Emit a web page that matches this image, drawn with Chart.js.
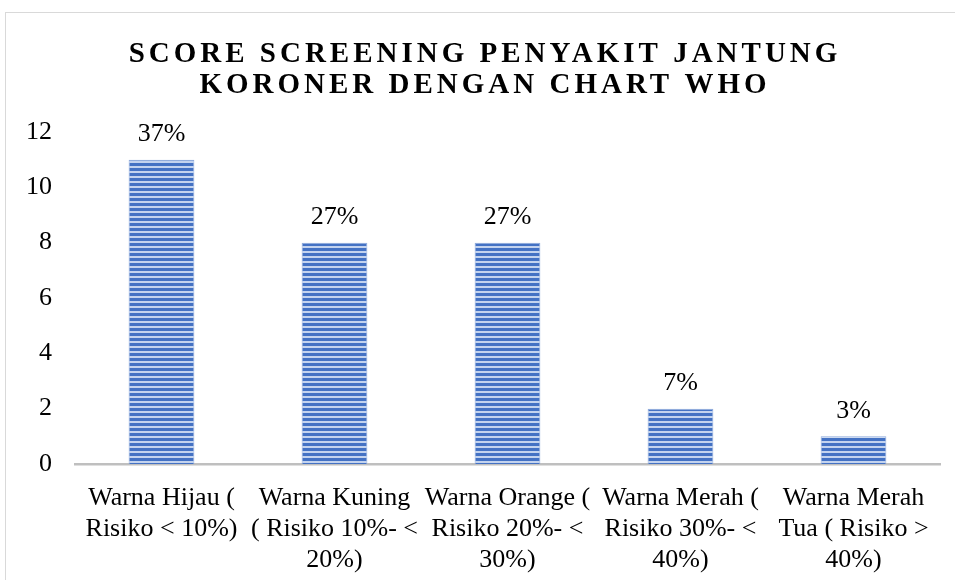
<!DOCTYPE html>
<html>
<head>
<meta charset="utf-8">
<script src="https://cdn.jsdelivr.net/npm/chart.js@4"></script>
<style>
  body { margin: 0; background: #fff; overflow: hidden; }
  #box { position: absolute; left: 5px; top: 12px; width: 960px; height: 580px; border: 1px solid #d9d9d9; }
  #c { display: block; }
</style>
</head>
<body>
<div id="box"><canvas id="c" width="949" height="567"></canvas></div>
<script>
// data
const categories = [
  ['Warna Hijau (', 'Risiko < 10%)'],
  ['Warna Kuning', '( Risiko 10%- <', '20%)'],
  ['Warna Orange (', 'Risiko 20%- <', '30%)'],
  ['Warna Merah (', 'Risiko 30%- <', '40%)'],
  ['Warna Merah', 'Tua ( Risiko >', '40%)']
];
const counts = [11, 8, 8, 2, 1];
const percentLabels = ['37%', '27%', '27%', '7%', '3%'];
const titleLines = ['SCORE SCREENING PENYAKIT JANTUNG', 'KORONER DENGAN CHART WHO'];

const SERIF = '"Liberation Serif", "Times New Roman", serif';

// striped fill like the excel pattern
function stripes() {
  const p = document.createElement('canvas');
  p.width = 4; p.height = 5;
  const g = p.getContext('2d');
  g.fillStyle = '#c3d3ef';
  g.fillRect(0, 0, 4, 5);
  g.fillStyle = '#4472c4';
  g.fillRect(0, 0, 4, 3);
  return g.createPattern(p, 'repeat');
}

const titlePlugin = {
  id: 'spacedTitle',
  afterDraw(chart) {
    const ctx = chart.ctx;
    ctx.save();
    ctx.font = 'bold 29px ' + SERIF;
    ctx.fillStyle = '#000';
    ctx.textBaseline = 'middle';
    ctx.textAlign = 'left';
    ctx.letterSpacing = '4px';
    const cx = 477;
    titleLines.forEach((t, i) => {
      const w = ctx.measureText(t).width - 4;
      ctx.fillText(t, cx - w / 2, 42 + i * 31);
    });
    ctx.restore();
  }
};

const valueLabels = {
  id: 'valueLabels',
  afterDatasetsDraw(chart) {
    const ctx = chart.ctx;
    const meta = chart.getDatasetMeta(0);
    ctx.save();
    ctx.font = '26px ' + SERIF;
    ctx.fillStyle = '#000';
    ctx.textAlign = 'center';
    ctx.textBaseline = 'middle';
    meta.data.forEach((bar, i) => {
      ctx.fillText(percentLabels[i], bar.x, bar.y - 25);
    });
    ctx.restore();
  }
};

const ctx = document.getElementById('c').getContext('2d');
new Chart(ctx, {
  type: 'bar',
  data: {
    labels: categories,
    datasets: [{
      data: counts,
      backgroundColor: stripes(),
      borderColor: '#8eaadb',
      borderWidth: 1,
      categoryPercentage: 1,
      barPercentage: 0.38
    }]
  },
  options: {
    responsive: false,
    animation: false,
    layout: { padding: { top: 119, right: 15, left: 0, bottom: 0 } },
    plugins: { legend: { display: false }, tooltip: { enabled: false }, title: { display: false } },
    scales: {
      y: {
        min: 0, max: 12,
        ticks: { stepSize: 2, color: '#000', font: { family: SERIF, size: 26 }, padding: 23 },
        grid: { display: false, drawTicks: false },
        border: { display: false },
        afterFit(s) { s.width = 69; }
      },
      x: {
        ticks: { color: '#000', font: { family: SERIF, size: 26, lineHeight: '31px' }, padding: 19, maxRotation: 0, autoSkip: false },
        grid: { display: false, drawTicks: false },
        border: { display: true, color: '#bfbfbf', width: 2.5 },
        afterFit(s) { s.height = 116; }
      }
    }
  },
  plugins: [titlePlugin, valueLabels]
});
</script>
</body>
</html>
